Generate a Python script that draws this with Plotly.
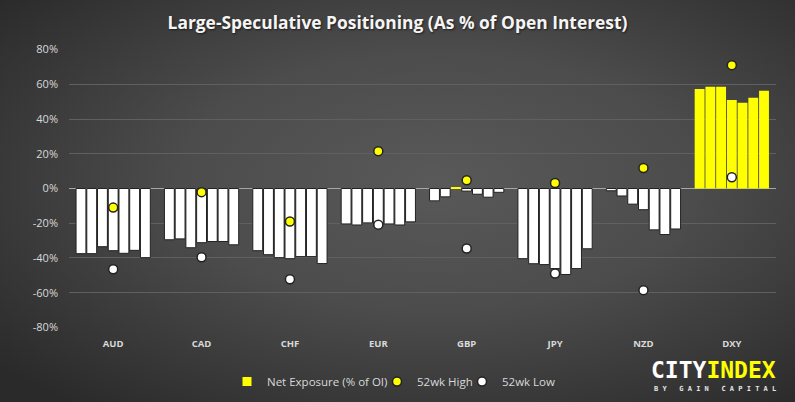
import base64
import plotly.graph_objects as go

# ---------------- data ----------------
categories = ["AUD", "CAD", "CHF", "EUR", "GBP", "JPY", "NZD", "DXY"]

aud = [-37.5, -37.5, -33.5, -35.8, -37.3, -35.6, -39.8]
cad = [-29.5, -29.0, -34.1, -31.2, -30.5, -30.5, -32.4]
chf = [-35.8, -38.1, -39.8, -40.4, -39.2, -39.2, -43.2]
eur = [-20.4, -21.0, -19.8, -20.4, -20.4, -21.0, -19.2]
gbp = [-7.1, -4.8, 0.4, -1.5, -3.3, -5.0, -2.2]
jpy = [-40.4, -43.3, -43.8, -46.1, -49.5, -46.1, -34.7]
nzd = [-1.3, -4.3, -9.0, -12.2, -23.8, -26.5, -23.3]
dxy = [57.3, 58.5, 58.5, 51.0, 49.3, 52.2, 56.2]

high_52wk = [-11.0, -2.1, -19.0, 21.5, 4.7, 3.2, 11.8, 71.0]
low_52wk = [-46.5, -39.6, -52.2, -20.8, -34.5, -49.0, -58.5, 6.5]

y_tick_values = [-80, -60, -40, -20, 0, 20, 40, 60, 80]
y_tick_labels = ["-80%", "-60%", "-40%", "-20%", "0%", "20%", "40%", "60%", "80%"]

title_text = "Large-Speculative Positioning (As % of Open Interest)"

# ---------------- styles ----------------
YELLOW = "#FFFF00"
WHITE = "#FFFFFF"
DARK = "#222222"
TEXT = "#D9D9D9"

W, H = 795, 402
ML, MR, MT, MB = 69, 19, 49, 74
PW, PH = W - ML - MR, H - MT - MB


def px_x(px):
    return (px - ML) / PW


def px_y(py):
    return (H - MB - py) / PH


net_by_currency = [aud, cad, chf, eur, gbp, jpy, nzd, dxy]
weeks = [list(w) for w in zip(*net_by_currency)]

fig = go.Figure()

for i, week in enumerate(weeks):
    fig.add_trace(go.Bar(
        x=categories,
        y=week,
        name=f"Week {i + 1}",
        showlegend=False,
        marker=dict(
            color=[YELLOW if v >= 0 else WHITE for v in week],
            line=dict(
                color=[YELLOW if v >= 0 else DARK for v in week],
                width=[0 if v >= 0 else 1 for v in week],
            ),
        ),
        hoverinfo="skip",
    ))

# legend entry for bars
fig.add_trace(go.Scatter(
    x=[None], y=[None], mode="markers", name="Net Exposure (% of OI)",
    legend="legend",
    marker=dict(symbol="square", size=9, color=YELLOW, line=dict(width=0)),
))

fig.add_trace(go.Scatter(
    x=categories, y=high_52wk, mode="markers", name="52wk High",
    legend="legend2",
    marker=dict(symbol="circle", size=9, color=YELLOW, line=dict(color=DARK, width=1.5)),
))
fig.add_trace(go.Scatter(
    x=categories, y=low_52wk, mode="markers", name="52wk Low",
    legend="legend3",
    marker=dict(symbol="circle", size=9, color=WHITE, line=dict(color=DARK, width=1.5)),
))

# background radial gradient (covers whole figure)
svg = (
    '<svg xmlns="http://www.w3.org/2000/svg" width="795" height="402" viewBox="0 0 795 402" preserveAspectRatio="none">'
    '<defs><radialGradient id="g" cx="0.55" cy="0.45" r="0.72" fx="0.55" fy="0.45">'
    '<stop offset="0" stop-color="#595959"/>'
    '<stop offset="0.45" stop-color="#4c4c4c"/>'
    '<stop offset="1" stop-color="#2a2a2a"/>'
    '</radialGradient></defs>'
    '<rect width="795" height="402" fill="url(#g)"/></svg>'
)
svg_uri = "data:image/svg+xml;base64," + base64.b64encode(svg.encode()).decode()

legend_common = dict(
    orientation="h",
    xanchor="left",
    yanchor="top",
    y=px_y(367),
    bgcolor="rgba(0,0,0,0)",
    borderwidth=0,
    font=dict(family="Open Sans", size=11.5, color=TEXT),
    itemwidth=30,
)

fig.update_layout(
    width=W, height=H,
    margin=dict(l=ML, r=MR, t=MT, b=MB, pad=0, autoexpand=False),
    paper_bgcolor="#3c3c3c",
    plot_bgcolor="rgba(0,0,0,0)",
    barmode="group",
    bargap=0.15,
    bargroupgap=0.08,
    font=dict(family="Open Sans", color=TEXT, size=11),
    title=dict(
        text=title_text,
        x=0.5, xref="container", xanchor="center",
        y=1 - 22.7 / H, yref="container", yanchor="middle",
        font=dict(family="Open Sans", size=17.4, color="#F5F5F5", weight="bold",
                  shadow="1px 1px 2px rgba(0,0,0,0.6)"),
    ),
    xaxis=dict(
        type="category",
        automargin=False,
        showgrid=False,
        showline=False,
        zeroline=False,
        ticks="",
        tickfont=dict(family="Open Sans", size=9.5, color=TEXT, weight="bold"),
        ticklabelstandoff=8,
    ),
    yaxis=dict(
        range=[-80.3, 80.3],
        automargin=False,
        tickvals=y_tick_values,
        ticktext=y_tick_labels,
        showgrid=True,
        gridcolor="#606060",
        gridwidth=1,
        zeroline=True,
        zerolinecolor="#A6A6A6",
        zerolinewidth=1,
        showline=False,
        ticks="",
        tickfont=dict(family="Open Sans", size=11, color=TEXT),
        ticklabelstandoff=10,
    ),
    legend=dict(x=px_x(227), **legend_common),
    legend2=dict(x=px_x(377), **legend_common),
    legend3=dict(x=px_x(462), **legend_common),
    images=[dict(
        source=svg_uri,
        xref="paper", yref="paper",
        x=-ML / PW, y=1 + MT / PH,
        sizex=W / PW, sizey=H / PH,
        xanchor="left", yanchor="top",
        sizing="stretch",
        layer="below",
    )],
    annotations=[
        dict(
            text="CITY<span style='color:#FFFF00'>INDEX</span>",
            xref="paper", yref="paper",
            x=px_x(713.4), y=px_y(369.5),
            xanchor="center", yanchor="middle",
            showarrow=False,
            font=dict(family="DejaVu Sans Mono", size=23, color="#FFFFFF", weight="bold"),
        ),
        dict(
            text="B Y   G A I N   C A P I T A L",
            xref="paper", yref="paper",
            x=px_x(714.5), y=px_y(388.5),
            xanchor="center", yanchor="middle",
            showarrow=False,
            font=dict(family="DejaVu Sans Mono", size=7, color="#E6E6E6", weight="bold"),
        ),
    ],
)

fig.write_html(
    "out.html",
    config={"displayModeBar": False},
    post_script="document.body.style.margin='0';document.body.style.overflow='hidden';",
)
